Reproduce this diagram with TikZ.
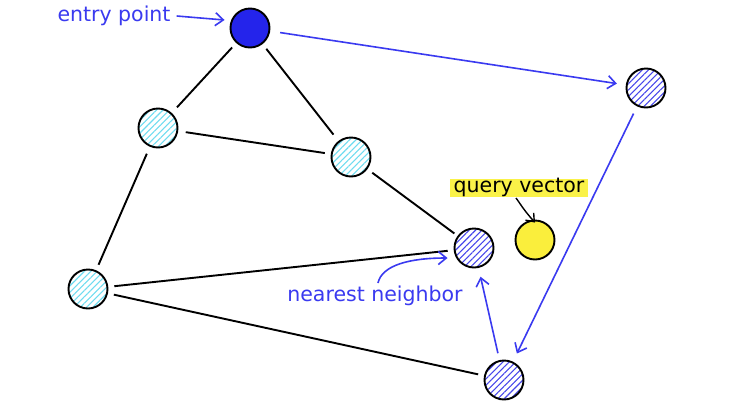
\documentclass[tikz,border=0pt]{standalone}
\usepackage{fontspec}
\setmainfont{DejaVu Sans}
\usetikzlibrary{patterns.meta,arrows.meta}
\definecolor{sketchblue}{RGB}{58,58,240}
\definecolor{entryblue}{RGB}{36,36,235}
\definecolor{hcyan}{RGB}{110,220,240}
\definecolor{hblue}{RGB}{70,70,235}
\definecolor{qyellow}{RGB}{250,238,60}
\definecolor{hlyellow}{RGB}{250,240,40}
\tikzset{
  vtx/.style={circle,draw=black,line width=1.9pt,minimum size=39pt,inner sep=0pt},
  cyanv/.style={vtx,pattern={Lines[angle=45,distance=4.5pt,line width=1.1pt]},pattern color=hcyan},
  bluev/.style={vtx,pattern={Lines[angle=45,distance=4.5pt,line width=1.1pt]},pattern color=hblue},
  edge/.style={black,line width=1.9pt},
  barrow/.style={sketchblue,line width=1.6pt,-{Straight Barb[length=8pt,width=13pt]}},
  lbl/.style={font=\fontsize{20.5}{23}\selectfont,inner sep=1pt},
}
\begin{document}
\begin{tikzpicture}[x=1pt,y=-1pt]
\useasboundingbox (0,0) rectangle (729,413);
\fill[white] (0,0) rectangle (729,413);
% vertices
\node[vtx,fill=entryblue] (E) at (250,28) {};
\node[cyanv] (A) at (158,128) {};
\node[cyanv] (B) at (351,157) {};
\node[cyanv] (C) at (88,289) {};
\node[bluev] (N) at (474,248) {};
\node[vtx,fill=qyellow] (Q) at (535,240) {};
\node[bluev] (R) at (646,88) {};
\node[bluev] (D) at (504,380) {};
% black edges
\draw[edge,shorten <=6pt,shorten >=8pt] (E) -- (A);
\draw[edge,shorten <=6pt,shorten >=8pt] (E) -- (B);
\draw[edge,shorten <=8pt,shorten >=6pt] (A) -- (B);
\draw[edge,shorten <=8pt,shorten >=6pt] (A) -- (C);
\draw[edge,shorten <=6pt,shorten >=4pt] (B) -- (N);
\draw[edge,shorten <=6pt,shorten >=6pt] (C) -- (N);
\draw[edge,shorten <=6pt,shorten >=6pt] (C) -- (D);
% blue arrows
\draw[barrow,shorten <=10pt,shorten >=9pt] (E) -- (R);
\draw[barrow,shorten <=8pt,shorten >=9pt] (R) -- (D);
\draw[barrow,shorten <=7pt,shorten >=9pt] (D) -- (N);
% labels
\node[lbl,text=sketchblue] (lEntry) at (114,16) {entry point};
\draw[barrow] (lEntry.east) ++(5,0) coordinate (eS) -- ([xshift=-5pt,yshift=8pt]E.west);
\fill[hlyellow,opacity=0.85] (450,179) rectangle (588,197);
\node[lbl] (lQuery) at (519,187) {query vector};
\coordinate (qS) at (516,198);
\draw[black,line width=1.4pt,-{Straight Barb[length=7pt,width=11pt]}] (qS) .. controls (520,203) and (522,208) .. ([yshift=-3pt]Q.north);
\node[lbl,text=sketchblue] (lNear) at (375,296) {nearest neighbor};
\coordinate (nS) at (378,283);
\draw[barrow] (nS) .. controls (382,265) and (410,258) .. ([xshift=-6pt,yshift=-10pt]N.west);
\end{tikzpicture}
\end{document}
